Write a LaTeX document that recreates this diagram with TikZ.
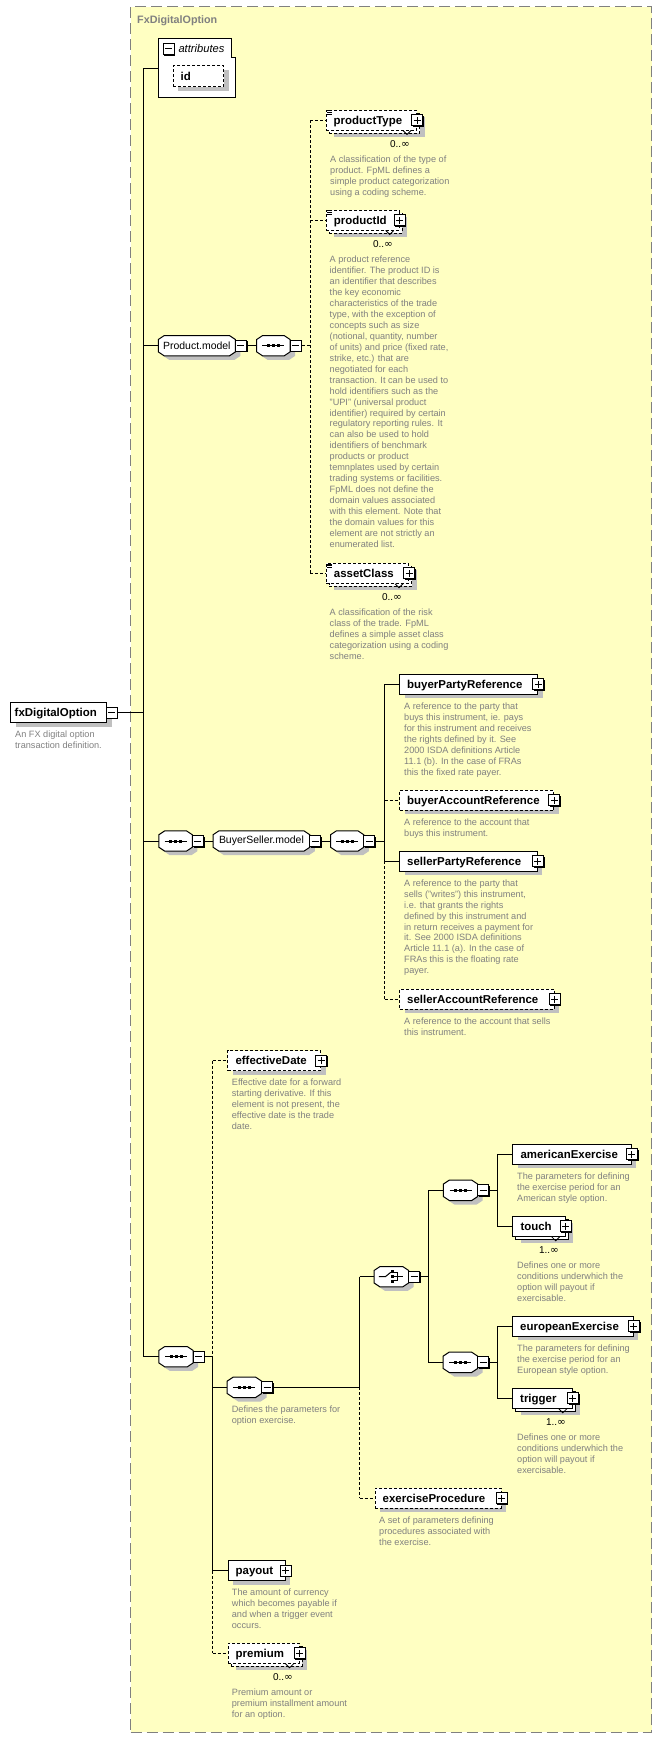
\documentclass[tikz,border=0pt]{standalone}
\usepackage{fontspec}
\setmainfont{Liberation Sans}
\newfontfamily\infont{DejaVu Sans}
\usetikzlibrary{shadows,calc}
\definecolor{bgyellow}{RGB}{255,255,194}
\definecolor{shc}{RGB}{192,192,192}
\definecolor{txtgrey}{RGB}{128,128,128}
\newcommand\inff{{\infont\fontsize{10.5}{12}\selectfont ∞}}
\tikzset{
 conn/.style={line width=1bp, draw=black},
 opt/.style={dash pattern=on 3bp off 2bp},
 eshadow/.style={drop shadow={shadow xshift=5bp, shadow yshift=-4bp, fill=shc, opacity=1}},
 ebox/.style={draw, line width=1bp, fill=white, minimum height=20bp, inner sep=0pt, anchor=west},
 ename/.style={font=\bfseries\fontsize{11.5}{13}\selectfont, anchor=base west, inner sep=0pt},
 titletext/.style={font=\bfseries\fontsize{10.8}{13}\selectfont, text=txtgrey, anchor=base west, inner sep=0pt},
 gname/.style={font=\fontsize{10.5}{12}\selectfont, inner sep=0pt},
 desc/.style={font=\fontsize{9.2}{11}\selectfont, text=txtgrey, align=left, anchor=north west, inner sep=0pt},
 mult/.style={font=\fontsize{10}{12}\selectfont, anchor=base east, inner sep=0pt},
 btn/.style={draw, line width=1bp, fill=white, minimum size=11bp, inner sep=0pt,
   drop shadow={shadow xshift=1.2bp, shadow yshift=-1.2bp, fill=black, opacity=1}},
 btnminus/.style={btn, path picture={\draw[line width=1bp]
   ([xshift=-3.5bp]path picture bounding box.center) -- ([xshift=3.5bp]path picture bounding box.center);}},
 btnplus/.style={btn, path picture={\draw[line width=1bp]
   ([xshift=-3.5bp]path picture bounding box.center) -- ([xshift=3.5bp]path picture bounding box.center)
   ([yshift=-3.5bp]path picture bounding box.center) -- ([yshift=3.5bp]path picture bounding box.center);}},
}
% element box
\newcommand\xel[6]{%
 \node[ebox, eshadow, #6, minimum width=#4bp] (#1) at (#2,#3) {};
 \node[ename] (#1-t) at ([xshift=8bp,yshift=-4bp]#1.west) {#5};
 \node[btnplus] (#1-p) at (#1.east) {};
}
% stacked element box (several occurrences)
\newcommand\xels[6]{%
 \node[ebox, eshadow, #6, minimum width=#4bp] (#1-b) at (#2+3,#3+3) {};
 \node[ebox, #6, minimum width=#4bp] (#1) at (#2,#3) {};
 \draw[line width=0.8bp] ([xshift=-14bp]#1.south east) -- ([shift={(-10bp,-4bp)}]#1.south east) -- ([xshift=-6bp]#1.south east);
 \node[ename] (#1-t) at ([xshift=8bp,yshift=-4bp]#1.west) {#5};
 \node[btnplus] (#1-p) at (#1.east) {};
}
% small "list" icon at the top left corner
\newcommand\xeq[1]{%
 \draw[line width=0.8bp] ([shift={(1.5bp,-1.2bp)}]#1.north west) -- ([shift={(6.5bp,-1.2bp)}]#1.north west)
   ([shift={(1.5bp,-2.9bp)}]#1.north west) -- ([shift={(6.5bp,-2.9bp)}]#1.north west)
   ([shift={(1.5bp,-4.6bp)}]#1.north west) -- ([shift={(6.5bp,-4.6bp)}]#1.north west);
}
\newcommand\octp[1]{([xshift=6bp]#1.north west) -- ([xshift=-6bp]#1.north east) -- ([yshift=-4bp]#1.north east) -- ([yshift=4bp]#1.south east) -- ([xshift=-6bp]#1.south east) -- ([xshift=6bp]#1.south west) -- ([yshift=4bp]#1.south west) -- ([yshift=-4bp]#1.north west) -- cycle}
\newcommand\xoct[4]{%
 \node[inner sep=0pt, minimum width=#4bp, minimum height=20bp, anchor=west] (#1) at (#2,#3) {};
 \fill[shc, transform canvas={shift={(5bp,-4bp)}}] \octp{#1};
 \filldraw[fill=white, line width=1bp] \octp{#1};
 \node[btnminus] (#1-m) at ([xshift=5.5bp]#1.east) {};
}
\newcommand\seqicon[1]{%
 \draw[line width=1bp] ([xshift=-11bp]#1.center) -- ([xshift=11bp]#1.center);
 \fill ([shift={(-6.5bp,-1.5bp)}]#1.center) rectangle ([shift={(-3.5bp,1.5bp)}]#1.center);
 \fill ([shift={(-1.5bp,-1.5bp)}]#1.center) rectangle ([shift={(1.5bp,1.5bp)}]#1.center);
 \fill ([shift={(3.5bp,-1.5bp)}]#1.center) rectangle ([shift={(6.5bp,1.5bp)}]#1.center);
}
\newcommand\choiceicon[1]{%
 \draw[line width=1bp] ([xshift=-12.5bp]#1.center) -- ([xshift=-6bp]#1.center) -- ([shift={(-0.5bp,4.5bp)}]#1.center);
 \fill ([shift={(-0.5bp,3.7bp)}]#1.center) rectangle ([shift={(2.2bp,6.3bp)}]#1.center);
 \fill ([shift={(-0.5bp,-1.3bp)}]#1.center) rectangle ([shift={(2.2bp,1.3bp)}]#1.center);
 \fill ([shift={(-0.5bp,-6.3bp)}]#1.center) rectangle ([shift={(2.2bp,-3.7bp)}]#1.center);
 \draw[line width=1bp] ([shift={(2.5bp,4bp)}]#1.center) -- ([shift={(6bp,4bp)}]#1.center) -- ([shift={(6bp,-4bp)}]#1.center) -- ([shift={(2.5bp,-4bp)}]#1.center)
   ([shift={(2.5bp,0bp)}]#1.center) -- ([shift={(12bp,0bp)}]#1.center);
}
\begin{document}
\begin{tikzpicture}[x=1bp,y=-1bp]
\useasboundingbox (0,0) rectangle (661,1737);
\node[draw=txtgrey, line width=1.3bp, dash pattern=on 11bp off 5bp, fill=bgyellow, minimum width=521bp, minimum height=1725.5bp, anchor=north west, inner sep=0pt] (frame) at (130,6) {};
\node[titletext] (title) at (137,23) {FxDigitalOption};

% attributes
\node[inner sep=0pt, minimum width=76.7bp, minimum height=59bp, anchor=north west] (attr) at (158.5,38.3) {};
\filldraw[fill=white, line width=1bp] (attr.north west) -- ([xshift=-4.2bp]attr.north east) -- ([shift={(-4.2bp,-19bp)}]attr.north east) -- ([yshift=-19bp]attr.north east) -- (attr.south east) -- (attr.south west) -- cycle;
\node[btnminus] (attr-m) at (168.6,48.8) {};
\node[font=\itshape\fontsize{11.2}{13}\selectfont, anchor=base west, inner sep=0pt] (attr-t) at (178.3,52.7) {attributes};
\node[ebox, eshadow, opt, minimum width=50.5bp, minimum height=20.7bp] (id) at (172.9,76.3) {};
\node[ename] (id-t) at ([xshift=7.5bp,yshift=-4bp]id.west) {id};

% root
\node[ebox, eshadow, minimum width=96bp] (root) at (10,712.7) {};
\node[ename] (root-t) at ([xshift=4.5bp,yshift=-4bp]root.west) {fxDigitalOption};
\node[btnminus] (root-m) at ([xshift=4.5bp]root.east) {};
\node[desc] (root-d) at (15,730) {\strut An FX digital option\\transaction definition.};

% Product.model
\xoct{pm}{158.3}{345.7}{76.7}
\node[gname] (pm-t) at (pm.center) {Product.model};
\xoct{pseq}{256.7}{345.7}{33}
\seqicon{pseq}

\xels{ptype}{325.5}{120}{90.5}{productType}{opt}
\xeq{ptype}
\node[mult] (ptype-n) at (410,147.5) {0..\inff};
\node[desc] (ptype-d) at (330,155) {\strut A classification of the type of\\product. FpML defines a\\simple product categorization\\using a coding scheme.};

\xels{pid}{325.7}{220}{73}{productId}{opt}
\xeq{pid}
\node[mult] (pid-n) at (393,247.5) {0..\inff};
\node[desc] (pid-d) at (329.5,254.7) {\strut A product reference\\identifier. The product ID is\\an identifier that describes\\the key economic\\characteristics of the trade\\type, with the exception of\\concepts such as size\\(notional, quantity, number\\of units) and price (fixed rate,\\strike, etc.) that are\\negotiated for each\\transaction. It can be used to\\hold identifiers such as the\\"UPI" (universal product\\identifier) required by certain\\regulatory reporting rules. It\\can also be used to hold\\identifiers of benchmark\\products or product\\temnplates used by certain\\trading systems or facilities.\\FpML does not define the\\domain values associated\\with this element. Note that\\the domain values for this\\element are not strictly an\\enumerated list.};

\xels{aclass}{325.7}{573.3}{82.3}{assetClass}{opt}
\xeq{aclass}
\node[mult] (aclass-n) at (402,600.8) {0..\inff};
\node[desc] (aclass-d) at (329.5,607.7) {\strut A classification of the risk\\class of the trade. FpML\\defines a simple asset class\\categorization using a coding\\scheme.};

% BuyerSeller.model
\xoct{bseq1}{158.8}{841}{33.2}
\seqicon{bseq1}
\xoct{bsm}{213}{841}{96.5}
\node[gname] (bsm-t) at (bsm.center) {BuyerSeller.model};
\xoct{bseq2}{330.5}{841}{33}
\seqicon{bseq2}

\xel{bpr}{399}{684}{138.3}{buyerPartyReference}{solid}
\node[desc] (bpr-d) at (404,702) {\strut A reference to the party that\\buys this instrument, ie. pays\\for this instrument and receives\\the rights defined by it. See\\2000 ISDA definitions Article\\11.1 (b). In the case of FRAs\\this the fixed rate payer.};
\xel{bar}{399}{800.3}{154.3}{buyerAccountReference}{opt}
\node[desc] (bar-d) at (404,817.7) {\strut A reference to the account that\\buys this instrument.};
\xel{spr}{399}{861.3}{137.8}{sellerPartyReference}{solid}
\node[desc] (spr-d) at (404,878.3) {\strut A reference to the party that\\sells ("writes") this instrument,\\i.e. that grants the rights\\defined by this instrument and\\in return receives a payment for\\it. See 2000 ISDA definitions\\Article 11.1 (a). In the case of\\FRAs this is the floating rate\\payer.};
\xel{sar}{399}{999.3}{154.7}{sellerAccountReference}{opt}
\node[desc] (sar-d) at (404,1016.7) {\strut A reference to the account that sells\\this instrument.};

% lower sequence
\xoct{mseq}{158.8}{1356.7}{34}
\seqicon{mseq}
\xel{effd}{227.3}{1060.5}{92.7}{effectiveDate}{opt}
\node[desc] (effd-d) at (231.7,1077.3) {\strut Effective date for a forward\\starting derivative. If this\\element is not present, the\\effective date is the trade\\date.};

\xoct{xseq}{227.2}{1387.3}{34}
\seqicon{xseq}
\node[desc] (xseq-d) at (231.6,1404.3) {\strut Defines the parameters for\\option exercise.};

\xoct{choice}{374}{1276.7}{34.3}
\choiceicon{choice}
\xoct{useq}{443.3}{1190.3}{34}
\seqicon{useq}
\xoct{lseq}{443.2}{1362.3}{34}
\seqicon{lseq}

\xel{amex}{512.3}{1154.3}{118.5}{americanExercise}{solid}
\node[desc] (amex-d) at (517,1171.7) {\strut The parameters for defining\\the exercise period for an\\American style option.};
\xels{touch}{512.3}{1226.3}{52.4}{touch}{solid}
\node[mult] (touch-n) at (559,1253.8) {1..\inff};
\node[desc] (touch-d) at (517,1260.7) {\strut Defines one or more\\conditions underwhich the\\option will payout if\\exercisable.};
\xel{euex}{512}{1326}{120.8}{europeanExercise}{solid}
\node[desc] (euex-d) at (517,1343.7) {\strut The parameters for defining\\the exercise period for an\\European style option.};
\xels{trig}{512}{1398.3}{59.8}{trigger}{solid}
\node[mult] (trig-n) at (566,1425.8) {1..\inff};
\node[desc] (trig-d) at (517,1432.7) {\strut Defines one or more\\conditions underwhich the\\option will payout if\\exercisable.};

\xel{exproc}{374.5}{1498.3}{126}{exerciseProcedure}{opt}
\node[desc] (exproc-d) at (379,1515.7) {\strut A set of parameters defining\\procedures associated with\\the exercise.};

\xel{payout}{227.5}{1570.7}{57.1}{payout}{solid}
\node[desc] (payout-d) at (231.7,1587.7) {\strut The amount of currency\\which becomes payable if\\and when a trigger event\\occurs.};
\xels{prem}{227.5}{1653.3}{71.1}{premium}{opt}
\node[mult] (prem-n) at (293,1680.8) {0..\inff};
\node[desc] (prem-d) at (231.7,1687.7) {\strut Premium amount or\\premium installment amount\\for an option.};

% connectors
\coordinate (mtop) at (143.5,68.3);
\coordinate (mbot) at (143.5,1356.7);
\draw[conn] (mtop) -- (mbot);
\draw[conn] (mtop) -- (attr.west |- mtop);
\draw[conn] (root-m.east) -- (root-m.east -| mtop);
\draw[conn] (pm.west -| mtop) -- (pm.west);
\draw[conn] (pm-m.east) -- (pseq.west);
\coordinate (j1) at (310,345.7);
\draw[conn,opt] (pseq-m.east) -- (j1);
\draw[conn,opt] (ptype.west -| j1) -- (aclass.west -| j1);
\draw[conn,opt] (ptype.west -| j1) -- (ptype.west);
\draw[conn,opt] (pid.west -| j1) -- (pid.west);
\draw[conn,opt] (aclass.west -| j1) -- (aclass.west);

\draw[conn] (bseq1.west -| mtop) -- (bseq1.west);
\draw[conn] (bseq1-m.east) -- (bsm.west);
\draw[conn] (bsm-m.east) -- (bseq2.west);
\coordinate (j2) at (384.5,841);
\draw[conn] (bseq2-m.east) -- (j2);
\draw[conn] (bpr.west -| j2) -- (spr.west -| j2);
\draw[conn,opt] (spr.west -| j2) -- (sar.west -| j2);
\draw[conn] (bpr.west -| j2) -- (bpr.west);
\draw[conn,opt] (bar.west -| j2) -- (bar.west);
\draw[conn] (spr.west -| j2) -- (spr.west);
\draw[conn,opt] (sar.west -| j2) -- (sar.west);

\draw[conn] (mbot) -- (mseq.west);
\coordinate (j3) at (212.5,1356.7);
\draw[conn] (mseq-m.east) -- (j3);
\draw[conn,opt] (effd.west -| j3) -- (j3);
\draw[conn] (j3) -- (payout.west -| j3);
\draw[conn,opt] (payout.west -| j3) -- (prem.west -| j3);
\draw[conn,opt] (effd.west -| j3) -- (effd.west);
\draw[conn] (xseq.west -| j3) -- (xseq.west);
\draw[conn] (payout.west -| j3) -- (payout.west);
\draw[conn,opt] (prem.west -| j3) -- (prem.west);

\coordinate (j4) at (359.5,1387.3);
\draw[conn] (xseq-m.east) -- (j4);
\draw[conn] (choice.west -| j4) -- (j4);
\draw[conn,opt] (j4) -- (exproc.west -| j4);
\draw[conn] (choice.west -| j4) -- (choice.west);
\draw[conn,opt] (exproc.west -| j4) -- (exproc.west);

\coordinate (j5) at (428,1276.7);
\draw[conn] (choice-m.east) -- (j5);
\draw[conn] (useq.west -| j5) -- (lseq.west -| j5);
\draw[conn] (useq.west -| j5) -- (useq.west);
\draw[conn] (lseq.west -| j5) -- (lseq.west);

\coordinate (j6) at (497.3,1190.3);
\draw[conn] (useq-m.east) -- (j6);
\draw[conn] (amex.west -| j6) -- (touch.west -| j6);
\draw[conn] (amex.west -| j6) -- (amex.west);
\draw[conn] (touch.west -| j6) -- (touch.west);

\coordinate (j7) at (497.4,1362.3);
\draw[conn] (lseq-m.east) -- (j7);
\draw[conn] (euex.west -| j7) -- (trig.west -| j7);
\draw[conn] (euex.west -| j7) -- (euex.west);
\draw[conn] (trig.west -| j7) -- (trig.west);
\end{tikzpicture}
\end{document}
